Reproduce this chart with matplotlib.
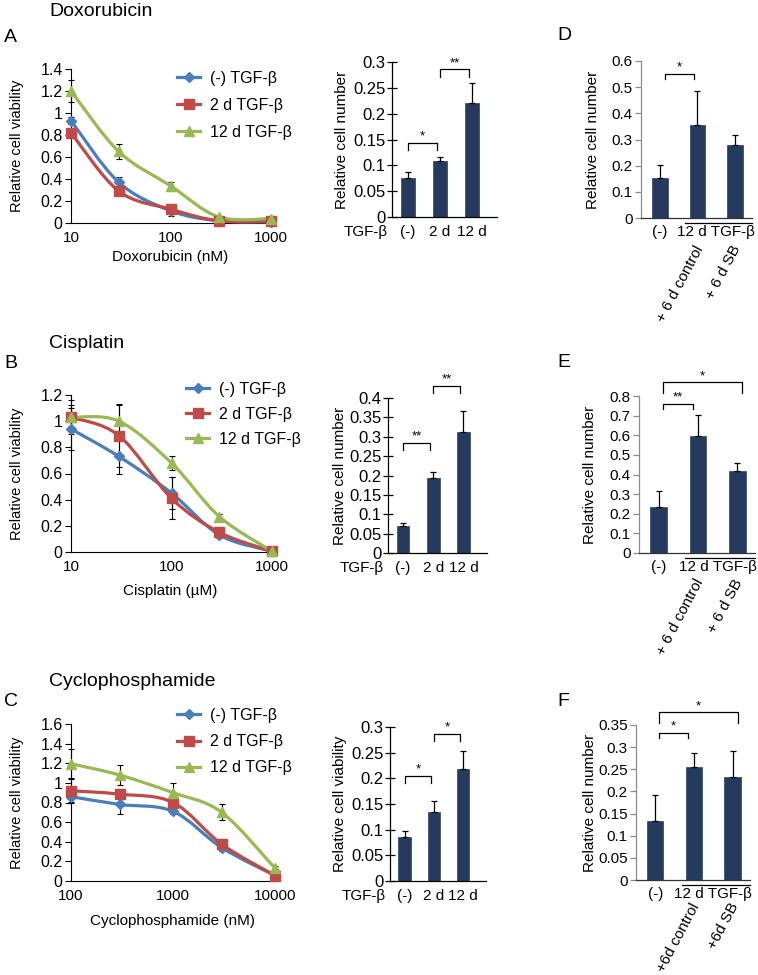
import numpy as np
import matplotlib
matplotlib.use("Agg")
import matplotlib.pyplot as plt
from matplotlib.path import Path
from matplotlib.patches import PathPatch
from matplotlib.lines import Line2D
from matplotlib.ticker import FuncFormatter

plt.rcParams['font.family'] = ['Liberation Sans', 'DejaVu Sans']
plt.rcParams['font.size'] = 10.5

# ---- data ----
series_names = ['(-) TGF-β', '2 d TGF-β', '12 d TGF-β']

dox_conc = [10, 30, 100, 300, 1000]
dox_ctrl = [0.93, 0.37, 0.11, 0.02, 0.01]
dox_ctrl_err = [0.03, 0.05, 0.045, 0.01, 0.005]
dox_2d = [0.82, 0.29, 0.125, 0.02, 0.015]
dox_2d_err = [0.02, 0.03, 0.02, 0.01, 0.005]
dox_12d = [1.2, 0.65, 0.335, 0.055, 0.04]
dox_12d_err = [0.1, 0.07, 0.04, 0.01, 0.01]

cis_conc = [10, 30, 100, 300, 1000]
cis_ctrl = [0.94, 0.73, 0.45, 0.13, 0.005]
cis_ctrl_err = [0.16, 0.13, 0.12, 0.02, 0.005]
cis_2d = [1.03, 0.89, 0.41, 0.15, 0.005]
cis_2d_err = [0.09, 0.24, 0.16, 0.02, 0.005]
cis_12d = [1.03, 1.0, 0.68, 0.27, 0.005]
cis_12d_err = [0.13, 0.12, 0.05, 0.02, 0.005]

cyc_conc = [100, 300, 1000, 3000, 10000]
cyc_ctrl = [0.86, 0.78, 0.71, 0.34, 0.055]
cyc_ctrl_err = [0.05, 0.1, 0.03, 0.03, 0.01]
cyc_2d = [0.92, 0.885, 0.80, 0.375, 0.055]
cyc_2d_err = [0.12, 0.05, 0.03, 0.05, 0.01]
cyc_12d = [1.195, 1.08, 0.90, 0.70, 0.13]
cyc_12d_err = [0.15, 0.1, 0.1, 0.08, 0.02]

tgf_groups = ['(-)', '2 d', '12 d']
dox_bar = [0.075, 0.1075, 0.2215]
dox_bar_err = [0.013, 0.009, 0.037]
cis_bar = [0.07, 0.193, 0.311]
cis_bar_err = [0.007, 0.017, 0.056]
cyc_bar = [0.086, 0.1335, 0.219]
cyc_bar_err = [0.011, 0.023, 0.034]

sb_bar_d = [0.151, 0.356, 0.279]
sb_err_d = [0.05, 0.128, 0.038]
sb_bar_e = [0.232, 0.596, 0.42]
sb_err_e = [0.086, 0.106, 0.04]
sb_bar_f = [0.133, 0.2547, 0.233]
sb_err_f = [0.059, 0.032, 0.059]

# significance brackets: (x start, x end, height, label)
sig_a = [(0, 0.9, 0.144, '*'), (1, 1.9, 0.2865, '**')]
sig_b = [(0, 0.9, 0.285, '**'), (1, 1.9, 0.432, '**')]
sig_c = [(0, 0.9, 0.205, '*'), (1, 1.9, 0.287, '*')]
sig_d = [(0.15, 0.9, 0.551, '*')]
sig_e = [(0.12, 0.88, 0.761, '**'), (0.1, 2.13, 0.871, '*')]
sig_f = [(0.1, 0.85, 0.333, '*'), (0.1, 2.13, 0.379, '*')]

colors = ['#4a7ebb', '#be4b48', '#98b954']
markers = ['D', 's', '^']
msizes = [5.5, 7.5, 7.5]
bar_color = '#263a5e'

W, H = 758, 975
fig = plt.figure(figsize=(W / 100, H / 100), dpi=100)


def add_ax(l, t, r, b):
    return fig.add_axes([l / W, 1 - b / H, (r - l) / W, (b - t) / H])


def fx(px):
    return px / W


def fy(py):
    return 1 - py / H


def smooth_line(ax, xs, ys, color):
    # Excel-like smoothed line (bezier in log-x space)
    lx = np.log10(xs)
    y = np.asarray(ys, float)
    n = len(lx)
    verts = [(xs[0], y[0])]
    codes = [Path.MOVETO]
    for i in range(n - 1):
        p0 = max(i - 1, 0)
        p3 = min(i + 2, n - 1)
        c1x = lx[i] + (lx[i + 1] - lx[p0]) / 6
        c1y = y[i] + (y[i + 1] - y[p0]) / 6
        c2x = lx[i + 1] - (lx[p3] - lx[i]) / 6
        c2y = y[i + 1] - (y[p3] - y[i]) / 6
        verts += [(10 ** c1x, c1y), (10 ** c2x, c2y), (xs[i + 1], y[i + 1])]
        codes += [Path.CURVE4] * 3
    ax.add_patch(PathPatch(Path(verts, codes), fill=False, edgecolor=color,
                           lw=2.3, clip_on=False, zorder=3))


gfmt = FuncFormatter(lambda v, p: f'{v:g}')


def line_panel(box, conc, vals, errs, ymax, xlabel, xlab_top, ylab_x, leg_pos, leg_sp):
    ax = add_ax(*box)
    ax.set_xscale('log')
    for k in range(3):
        ax.errorbar(conc, vals[k], yerr=errs[k], fmt='none', ecolor='black',
                    elinewidth=0.8, capsize=2.5, capthick=0.8, zorder=2, clip_on=False)
        smooth_line(ax, conc, vals[k], colors[k])
        ax.plot(conc, vals[k], ls='none', marker=markers[k], ms=msizes[k],
                color=colors[k], zorder=4, clip_on=False)
    ax.set_xlim(conc[0], conc[-1])
    ax.set_ylim(0, ymax)
    ax.set_yticks(np.arange(0, ymax + 0.001, 0.2))
    ax.yaxis.set_major_formatter(gfmt)
    ax.set_xticks([conc[0], conc[2], conc[4]])
    ax.set_xticklabels([str(conc[0]), str(conc[2]), str(conc[4])])
    ax.xaxis.set_minor_locator(matplotlib.ticker.NullLocator())
    for s in ['top', 'right']:
        ax.spines[s].set_visible(False)
    for s in ['left', 'bottom']:
        ax.spines[s].set_linewidth(0.8)
    ax.tick_params(axis='y', direction='out', length=4, width=0.8, labelsize=11.5, pad=2)
    ax.tick_params(axis='x', direction='out', length=0, labelsize=11, pad=6)
    ax.set_ylabel('Relative cell viability', fontsize=10.5)
    ax.yaxis.set_label_coords(fx(ylab_x), fy((box[1] + box[3]) / 2), transform=fig.transFigure)
    ax.set_xlabel(xlabel, fontsize=11)
    ax.xaxis.set_label_coords(fx((box[0] + box[2]) / 2 - 1), fy(xlab_top), transform=fig.transFigure)
    handles = [Line2D([], [], color=colors[k], lw=2.3, marker=markers[k], ms=msizes[k])
               for k in range(3)]
    ax.legend(handles, series_names, loc='upper left', frameon=False,
              bbox_to_anchor=(fx(leg_pos[0]), fy(leg_pos[1] - 10)),
              bbox_transform=fig.transFigure, borderpad=0, borderaxespad=0,
              handlelength=1.45, handletextpad=0.6, labelspacing=leg_sp, fontsize=11.5)
    return ax


def bracket(ax, x0, x1, y, label, leg):
    ax.plot([x0, x0, x1, x1], [y - leg, y, y, y - leg], color='black', lw=0.9,
            clip_on=False)
    ax.text((x0 + x1) / 2, y, label, ha='center', va='bottom', fontsize=9.5,
            clip_on=False)


def tgf_bar_panel(box, vals, errs, ymax, step, sigs, ylab, ylab_x):
    ax = add_ax(*box)
    x = np.arange(len(vals))
    ax.bar(x, vals, width=0.42, color=bar_color, edgecolor='#3b5078', lw=0.6,
           yerr=[np.zeros(len(errs)), errs], capsize=2.5,
           error_kw=dict(elinewidth=0.9, capthick=0.9, ecolor='black'))
    ax.set_xlim(-0.5, 2.78)
    ax.set_ylim(0, ymax)
    ax.set_yticks(np.arange(0, ymax + step / 2, step))
    ax.yaxis.set_major_formatter(gfmt)
    ax.set_xticks(x)
    ax.set_xticklabels(tgf_groups)
    for s in ['top', 'right']:
        ax.spines[s].set_visible(False)
    for s in ['left', 'bottom']:
        ax.spines[s].set_linewidth(0.9)
    ax.tick_params(axis='y', direction='inout', length=7, width=0.9, labelsize=12, pad=1)
    ax.tick_params(axis='x', length=0, labelsize=11, pad=6)
    ax.set_ylabel(ylab, fontsize=11)
    ax.yaxis.set_label_coords(fx(ylab_x), fy((box[1] + box[3]) / 2), transform=fig.transFigure)
    ax.annotate('TGF-β', xy=(0, 0), xycoords='axes fraction', xytext=(-3, -10.5),
                textcoords='offset points', ha='right', va='center', fontsize=11)
    leg = ymax * 0.05
    for x0, x1, y, lab in sigs:
        bracket(ax, x0, x1, y, lab, leg)
    return ax


def sb_bar_panel(box, vals, errs, ymax, step, sigs, ylab_x, plus_sp, rot_dy):
    ax = add_ax(*box)
    x = np.arange(len(vals))
    ax.bar(x, vals, width=0.42, color=bar_color, edgecolor='#3b5078', lw=0.6,
           yerr=[np.zeros(len(errs)), errs], capsize=2.5,
           error_kw=dict(elinewidth=0.9, capthick=0.9, ecolor='black'))
    ax.set_xlim(-0.5, 2.45)
    ax.set_ylim(0, ymax)
    ax.set_yticks(np.arange(0, ymax + step / 2, step))
    ax.yaxis.set_major_formatter(gfmt)
    ax.set_xticks([])
    for s in ['top', 'right']:
        ax.spines[s].set_visible(False)
    ax.spines['left'].set_color('#8c8c8c')
    ax.spines['left'].set_linewidth(0.9)
    ax.spines['bottom'].set_color('#333333')
    ax.spines['bottom'].set_linewidth(0.9)
    ax.tick_params(axis='y', direction='out', length=4, width=0.9, color='#8c8c8c',
                   labelsize=11, pad=2)
    ax.set_ylabel('Relative cell number', fontsize=11)
    ax.yaxis.set_label_coords(fx(ylab_x), fy((box[1] + box[3]) / 2), transform=fig.transFigure)
    # group labels under the axis
    ax.annotate('(-)', xy=(0, 0), xycoords=('data', 'axes fraction'),
                xytext=(0, -5), textcoords='offset points', ha='center', va='top',
                fontsize=11)
    ax.annotate('12 d TGF-β', xy=(1.5, 0), xycoords=('data', 'axes fraction'),
                xytext=(0, -5), textcoords='offset points', ha='center', va='top',
                fontsize=11)
    ax.plot([0.68, 2.45], [-0.035, -0.035], transform=ax.get_xaxis_transform(),
            color='black', lw=0.9, clip_on=False)
    unit = 'd' if plus_sp == '' else ' d'
    rot_labels = ['+' + plus_sp + '6' + unit + ' control',
                  '+' + plus_sp + '6' + unit + ' SB']
    for i, lab in zip([1, 2], rot_labels):
        ax.annotate(lab, xy=(i, 0), xycoords=('data', 'axes fraction'),
                    xytext=(6, rot_dy), textcoords='offset points', ha='right', va='top',
                    rotation=62, fontsize=11)
    leg = ymax * 0.035
    for x0, x1, y, lab in sigs:
        bracket(ax, x0, x1, y, lab, leg if x1 - x0 < 1.5 else ymax * 0.07)
    return ax


# ---- row A / D ----
line_panel((71, 69, 271, 223), dox_conc, [dox_ctrl, dox_2d, dox_12d],
           [dox_ctrl_err, dox_2d_err, dox_12d_err], 1.4, 'Doxorubicin (nM)',
           250, 24, (177, 81), 0.75)
tgf_bar_panel((392, 62, 497, 217), dox_bar, dox_bar_err, 0.3, 0.05, sig_a,
              'Relative cell number', 349)
sb_bar_panel((641, 61, 752, 218), sb_bar_d, sb_err_d, 0.6, 0.1, sig_d, 600, ' ', -18)

# ---- row B / E ----
line_panel((71, 395, 272, 552), cis_conc, [cis_ctrl, cis_2d, cis_12d],
           [cis_ctrl_err, cis_2d_err, cis_12d_err], 1.2, 'Cisplatin (µM)',
           584, 24, (186, 392), 0.62)
tgf_bar_panel((388, 398, 487, 553), cis_bar, cis_bar_err, 0.4, 0.05, sig_b,
              'Relative cell number', 347)
sb_bar_panel((639, 396, 755, 553), sb_bar_e, sb_err_e, 0.8, 0.1, sig_e, 597, ' ', -17)

# ---- row C / F ----
line_panel((71, 724, 275, 881), cyc_conc, [cyc_ctrl, cyc_2d, cyc_12d],
           [cyc_ctrl_err, cyc_2d_err, cyc_12d_err], 1.6, 'Cyclophosphamide (nM)',
           914, 24, (177, 718), 0.7)
tgf_bar_panel((390, 727, 486, 881), cyc_bar, cyc_bar_err, 0.3, 0.05, sig_c,
              'Relative cell viability', 347)
sb_bar_panel((636, 725, 750, 880), sb_bar_f, sb_err_f, 0.35, 0.05, sig_f, 597, '', -15)

# ---- titles and panel letters ----
for txt, x, y in [('Doxorubicin', 49, 11), ('Cisplatin', 49, 343),
                  ('Cyclophosphamide', 49, 682)]:
    fig.text(fx(x), fy(y), txt, ha='left', va='center', fontsize=14)
for txt, x, y in [('A', 4, 37), ('B', 4, 364), ('C', 4, 702),
                  ('D', 557, 35), ('E', 557, 363), ('F', 557, 702)]:
    fig.text(fx(x), fy(y), txt, ha='left', va='center', fontsize=14)

fig.savefig('out.png', dpi=100)
